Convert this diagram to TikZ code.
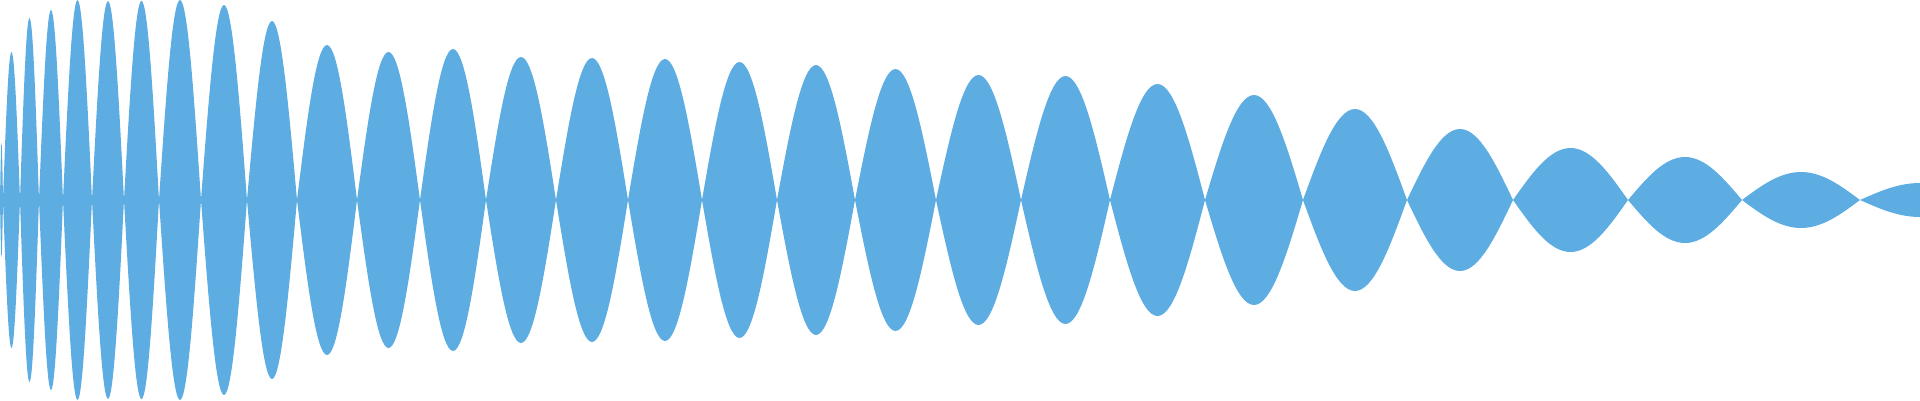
\documentclass[tikz,border=0pt]{standalone}
\definecolor{wave}{RGB}{93,173,226}
\begin{document}
\begin{tikzpicture}[x=1pt,y=-1pt,lobe/.style={fill=wave}]
\useasboundingbox (0,0) rectangle (1920,400);
\clip (0,0) rectangle (1920,400);
\foreach \a/\b/\t in {0/3/143,3/20/52,20/39/18,39/63/10,63/92/0,92/124/1,124/159/1,159/201/0,201/247/5,247/297/21,297/357/45,357/420/52,420/486/49,486/556/57,556/628/58,628/702/59,702/777/62,777/855/65,855/936/69,936/1021/75,1021/1110/76,1110/1205/84,1205/1303/95,1303/1407/109,1407/1513/129,1513/1628/148,1628/1742/157,1742/1860/172,1860/1980/183}{
  \pgfmathsetmacro\m{(\a+\b)/2}
  \pgfmathsetmacro\bt{400-\t}
  \fill[lobe] (\a,200) sin (\m,\t) cos (\b,200) sin (\m,\bt) cos (\a,200) -- cycle;
}
\end{tikzpicture}
\end{document}
